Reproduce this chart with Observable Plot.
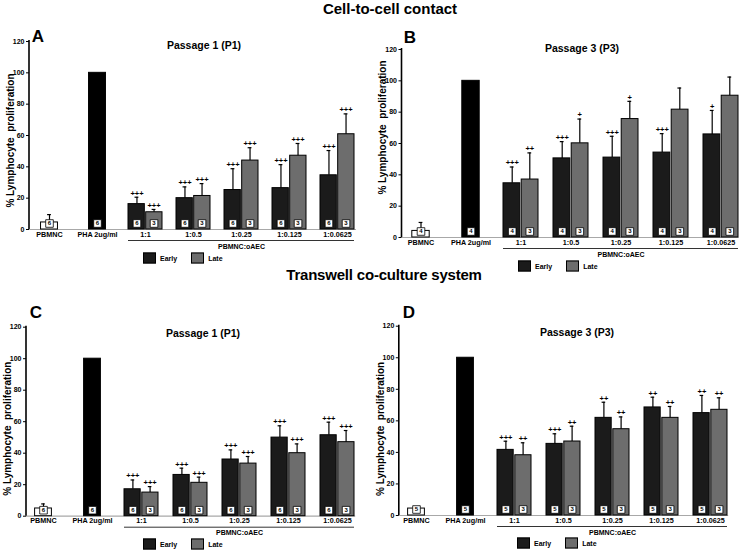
<!DOCTYPE html>
<html>
<head>
<meta charset="utf-8">
<script src="https://cdn.jsdelivr.net/npm/d3@7"></script>
<script src="https://cdn.jsdelivr.net/npm/@observablehq/plot@0.6"></script>
<style>
  html, body { margin: 0; padding: 0; background: #fff; }
  #root { position: relative; width: 746px; height: 550px; overflow: hidden; font-family: "Liberation Sans", Arial, sans-serif; }
  .abs { position: absolute; white-space: nowrap; }
  .main { font-weight: bold; font-size: 15px; transform: translate(-50%, -50%); }
  .ptitle { font-weight: bold; font-size: 10.5px; transform: translate(-50%, -50%); }
  .letter { font-weight: bold; font-size: 17px; transform: translate(-50%, -50%); }
  .legend { font-weight: bold; font-size: 7px; display: flex; align-items: center; transform: translateY(-50%); }
  .sw { display: inline-block; width: 11px; height: 9px; border: 1px solid #000; margin-right: 4px; }
  .plotbox { position: absolute; }
  svg text { -webkit-font-smoothing: antialiased; }
</style>
</head>
<body>
<div id="root"></div>
<script>
// ---------- data ----------
const categories = ["PBMNC", "PHA 2ug/ml", "1:1", "1:0.5", "1:0.25", "1:0.125", "1:0.0625"];
const controls = ["PBMNC", "PHA 2ug/ml"];
const ratios = ["1:1", "1:0.5", "1:0.25", "1:0.125", "1:0.0625"];
const seriesNames = ["Early", "Late"];
const yTicks = [0, 20, 40, 60, 80, 100, 120];
const yLabel = "% Lymphocyte  proliferation";
const groupLabel = "PBMNC:oAEC";

// Panel A — cell-to-cell contact, passage 1
const aControlMean = [4.5, 100];
const aControlSD = [5, 0];
const aControlN = [6, 6];
const aEarlyMean = [16.2, 20.0, 25.2, 26.4, 34.6];
const aEarlySD = [4.4, 7.2, 13.6, 15.0, 15.8];
const aLateMean = [11.0, 21.4, 44.0, 47.1, 60.8];
const aLateSD = [1.8, 7.9, 8.2, 7.8, 13.0];
const aEarlySig = ["+++", "+++", "+++", "+++", "+++"];
const aLateSig = ["+++", "+++", "+++", "+++", "+++"];
const aEarlyN = [6, 6, 6, 6, 6];
const aLateN = [3, 3, 3, 3, 3];

// Panel B — cell-to-cell contact, passage 3
const bControlMean = [4.2, 100];
const bControlSD = [5.4, 0];
const bControlN = [4, 4];
const bEarlyMean = [34.6, 50.5, 51.0, 54.2, 65.8];
const bEarlySD = [10.4, 10.7, 13.6, 12.1, 15.3];
const bLateMean = [37.0, 60.1, 75.6, 81.6, 90.5];
const bLateSD = [17.0, 15.5, 11.3, 13.8, 11.9];
const bEarlySig = ["+++", "+++", "+++", "+++", "+"];
const bLateSig = ["++", "+", "+", "", ""];
const bEarlyN = [4, 4, 4, 4, 4];
const bLateN = [3, 3, 3, 3, 3];

// Panel C — transwell, passage 1
const cControlMean = [4.9, 100];
const cControlSD = [2.9, 0];
const cControlN = [6, 6];
const cEarlyMean = [17.1, 26.2, 36.0, 49.9, 51.4];
const cEarlySD = [5.9, 4.3, 6.1, 7.5, 8.3];
const cLateMean = [15.0, 21.2, 33.4, 40.0, 47.0];
const cLateSD = [3.8, 3.6, 4.5, 5.9, 7.4];
const cEarlySig = ["+++", "+++", "+++", "+++", "+++"];
const cLateSig = ["+++", "+++", "+++", "+++", "+++"];
const cEarlyN = [6, 6, 6, 6, 6];
const cLateN = [3, 3, 3, 3, 3];

// Panel D — transwell, passage 3
const dControlMean = [4.4, 100];
const dControlSD = [0, 0];
const dControlN = [5, 5];
const dEarlyMean = [41.6, 45.4, 61.9, 68.5, 64.9];
const dEarlySD = [5.5, 6.4, 9.9, 6.5, 11.2];
const dLateMean = [38.2, 46.9, 54.7, 61.9, 67.0];
const dLateSD = [7.9, 9.7, 7.8, 7.2, 7.6];
const dEarlySig = ["+++", "+++", "++", "++", "++"];
const dLateSig = ["++", "++", "++", "++", "++"];
const dEarlyN = [5, 5, 5, 5, 5];
const dLateN = [3, 3, 3, 3, 3];

// ---------- styling / layout ----------
const colEarly = "#1b1b1b";
const colLate = "#6d6d6d";
const controlFill = ["#ffffff", "#000000"];

const root = document.getElementById("root");
function addDiv(cls, text, left, top, extra) {
  const d = document.createElement("div");
  d.className = "abs " + cls;
  d.textContent = text;
  d.style.left = left + "px";
  d.style.top = top + "px";
  if (extra) Object.assign(d.style, extra);
  root.appendChild(d);
  return d;
}

function rows(cats, mean, sd, n, sig) {
  return cats.map((c, i) => ({cat: c, v: mean[i], sd: sd[i], top: mean[i] + sd[i], n: n[i], sig: sig ? sig[i] : "", idx: i}));
}

function panel(cfg) {
  const {left, top, width, height, mL, mR, mT, mB, labelDy} = cfg;
  const step = (width - mL - mR) / (categories.length - 0.3);
  const bw = step * 0.7;
  const q = bw / 4;
  const ctrl = rows(controls, cfg.cMean, cfg.cSD, cfg.cN, null);
  const early = rows(ratios, cfg.eMean, cfg.eSD, cfg.eN, cfg.eSig);
  const late = rows(ratios, cfg.lMean, cfg.lSD, cfg.lN, cfg.lSig);
  const ctrlErr = ctrl.filter(d => d.sd > 0);

  const yAxisLine = (index, scales, values, dims) => {
    const l = document.createElementNS("http://www.w3.org/2000/svg", "line");
    l.setAttribute("x1", dims.marginLeft);
    l.setAttribute("x2", dims.marginLeft);
    l.setAttribute("y1", dims.marginTop - 1);
    l.setAttribute("y2", dims.height - dims.marginBottom);
    l.setAttribute("stroke", "#000");
    l.setAttribute("stroke-width", 1.6);
    return l;
  };

  const errMarks = (data, dx, inL, inR) => [
    Plot.ruleX(data, {x: "cat", y1: "v", y2: "top", dx, stroke: "#000", strokeWidth: 1.2}),
    Plot.tickY(data, {x: "cat", y: "top", insetLeft: inL, insetRight: inR, stroke: "#000", strokeWidth: 1.2})
  ];
  const nMarks = (data, dx) => [
    Plot.dot(data, {x: "cat", y: () => 0, dx, dy: -6, symbol: "square", r: 4.3, fill: "#fff", stroke: "#000", strokeWidth: 0.8}),
    Plot.text(data, {x: "cat", y: () => 0, dx, dy: -6, text: "n", fontSize: 6, fontWeight: "bold", fill: "#000"})
  ];

  const chart = Plot.plot({
    width, height,
    marginLeft: mL, marginRight: mR, marginTop: mT, marginBottom: mB,
    style: {fontFamily: "'Liberation Sans', Arial, sans-serif", fontSize: "7px", fontWeight: "bold", background: "transparent", overflow: "visible", color: "#000"},
    x: {type: "band", domain: categories, paddingInner: 0.3, paddingOuter: 0, axis: null},
    y: {domain: [0, 120], axis: null},
    marks: [
      Plot.ruleY([0], {stroke: "#a8a8a8", strokeWidth: 1.2}),
      Plot.barY(ctrl, {x: "cat", y: "v", fill: (d) => controlFill[d.idx], stroke: "#000", strokeWidth: 1, insetLeft: q, insetRight: q}),
      Plot.barY(early, {x: "cat", y: "v", fill: colEarly, stroke: "#000", strokeWidth: 1, insetRight: bw / 2 + 0.6}),
      Plot.barY(late, {x: "cat", y: "v", fill: colLate, stroke: "#000", strokeWidth: 1, insetLeft: bw / 2 + 0.6}),
      ...errMarks(ctrlErr, 0, bw / 2 - 2, bw / 2 - 2),
      ...errMarks(early, -q, q - 2, 3 * q - 2),
      ...errMarks(late, q, 3 * q - 2, q - 2),
      Plot.text(early, {x: "cat", y: "top", text: "sig", dx: -q, dy: -4, fontSize: 7.5, fontWeight: "bold", fill: "#000"}),
      Plot.text(late, {x: "cat", y: "top", text: "sig", dx: q, dy: -4, fontSize: 7.5, fontWeight: "bold", fill: "#000"}),
      ...nMarks(ctrl, 0),
      ...nMarks(early, -q),
      ...nMarks(late, q),
      Plot.axisY({ticks: yTicks, tickSize: 3, tickPadding: 2, label: null, fontSize: 7, fontWeight: "bold", fill: "#000", stroke: "#000"}),
      Plot.axisX({tickSize: 0, tickPadding: 2, label: null, fontSize: 7.2, fontWeight: "bold", fill: "#000"}),
      Plot.ruleY([0], {x1: () => ratios[0], x2: () => ratios[ratios.length - 1], dy: 11, stroke: "#333", strokeWidth: 1}),
      Plot.text([groupLabel], {x: () => ratios[2], y: () => 0, dy: 17, text: d => d, fontSize: 7, fontWeight: "bold", fill: "#000"}),
      Plot.text([yLabel], {frameAnchor: "left", rotate: -90, dx: -19, dy: labelDy, textAnchor: "middle", fontSize: 10, fontWeight: "bold", fill: "#000"}),
      yAxisLine
    ]
  });
  const box = document.createElement("div");
  box.className = "plotbox";
  box.style.left = left + "px";
  box.style.top = top + "px";
  box.appendChild(chart);
  root.appendChild(box);
}

function legend(left, top) {
  const d = document.createElement("div");
  d.className = "abs legend";
  d.style.left = left + "px";
  d.style.top = top + "px";
  d.innerHTML = `<span class="sw" style="background:${colEarly}"></span><span style="margin-right:14px">${seriesNames[0]}</span><span class="sw" style="background:${colLate}"></span><span>${seriesNames[1]}</span>`;
  root.appendChild(d);
}

// titles
addDiv("main", "Cell-to-cell contact", 390, 8);
addDiv("main", "Transwell co-culture system", 384, 274, {letterSpacing: "-0.2px"});

panel({left: 0, top: 0, width: 373, height: 265, mL: 29, mR: 17, mT: 41, mB: 36, labelDy: 5,
  cMean: aControlMean, cSD: aControlSD, cN: aControlN,
  eMean: aEarlyMean, eSD: aEarlySD, eN: aEarlyN, eSig: aEarlySig,
  lMean: aLateMean, lSD: aLateSD, lN: aLateN, lSig: aLateSig});
panel({left: 373, top: 0, width: 373, height: 270, mL: 28.5, mR: 7.5, mT: 49, mB: 33, labelDy: -16,
  cMean: bControlMean, cSD: bControlSD, cN: bControlN,
  eMean: bEarlyMean, eSD: bEarlySD, eN: bEarlyN, eSig: bEarlySig,
  lMean: bLateMean, lSD: bLateSD, lN: bLateN, lSig: bLateSig});
panel({left: 0, top: 280, width: 373, height: 270, mL: 26, mR: 17.8, mT: 46.7, mB: 34.3, labelDy: 7,
  cMean: cControlMean, cSD: cControlSD, cN: cControlN,
  eMean: cEarlyMean, eSD: cEarlySD, eN: cEarlyN, eSig: cEarlySig,
  lMean: cLateMean, lSD: cLateSD, lN: cLateN, lSig: cLateSig});
panel({left: 373, top: 280, width: 373, height: 270, mL: 25.8, mR: 17.8, mT: 45.7, mB: 35, labelDy: 8,
  cMean: dControlMean, cSD: dControlSD, cN: dControlN,
  eMean: dEarlyMean, eSD: dEarlySD, eN: dEarlyN, eSig: dEarlySig,
  lMean: dLateMean, lSD: dLateSD, lN: dLateN, lSig: dLateSig});

// panel letters and titles
addDiv("letter", "A", 38, 37);
addDiv("letter", "B", 410, 38);
addDiv("letter", "C", 36, 313);
addDiv("letter", "D", 409, 313);
addDiv("ptitle", "Passage 1 (P1)", 204, 45);
addDiv("ptitle", "Passage 3 (P3)", 582, 48);
addDiv("ptitle", "Passage 1 (P1)", 203, 333);
addDiv("ptitle", "Passage 3 (P3)", 577, 332);

// legends
legend(143, 258);
legend(518, 266);
legend(143, 544);
legend(517, 543);
</script>
</body>
</html>
